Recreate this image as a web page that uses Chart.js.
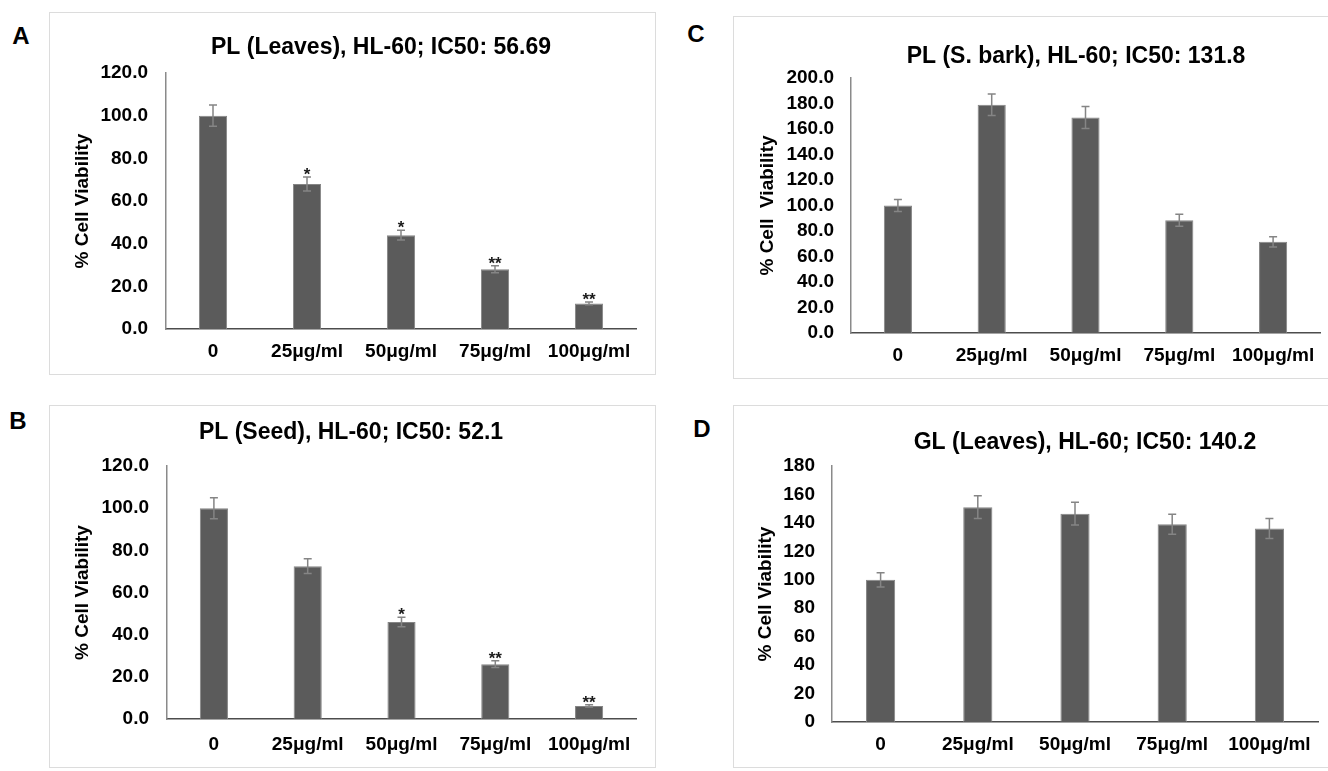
<!DOCTYPE html>
<html>
<head>
<meta charset="utf-8">
<script src="https://cdn.jsdelivr.net/npm/chart.js@4.4.1/dist/chart.umd.min.js"></script>
<style>
  html, body { margin: 0; padding: 0; background: #fff; }
  #wrap { position: relative; width: 1328px; height: 771px; overflow: hidden; background: #fff; }
  .frame { position: absolute; border: 1px solid #dcdcdc; box-sizing: border-box; }
  .tag { position: absolute; font: bold 24px 'Liberation Sans', Arial, sans-serif; color: #000; line-height: 1; transform: translate(-50%, -50%); }
  canvas { position: absolute; }
</style>
</head>
<body>
<div id="wrap">
  <div class="frame" style="left:49px;top:12px;width:607px;height:363px"></div>
  <div class="frame" style="left:49px;top:405px;width:607px;height:363px"></div>
  <div class="frame" style="left:733px;top:16px;width:700px;height:363px"></div>
  <div class="frame" style="left:733px;top:405px;width:700px;height:363px"></div>
  <div class="tag" style="left:21px;top:36px">A</div>
  <div class="tag" style="left:18px;top:421px">B</div>
  <div class="tag" style="left:696px;top:34px">C</div>
  <div class="tag" style="left:702px;top:429px">D</div>
  <canvas id="chartA"></canvas>
  <canvas id="chartB"></canvas>
  <canvas id="chartC"></canvas>
  <canvas id="chartD"></canvas>
</div>
<script>
// Doses shared by all four panels
const doses = ['0', '25μg/ml', '50μg/ml', '75μg/ml', '100μg/ml'];

// A: PL leaves
const viabilityA = [100, 68, 44, 28, 12];
const errorA = [5, 3.3, 2.3, 1.6, 0.6];
const starsA = ['', '*', '*', '**', '**'];

// B: PL seed
const viabilityB = [100, 72.5, 46, 26, 6.2];
const errorB = [5, 3.5, 2.3, 1.6, 0.5];
const starsB = ['', '', '*', '**', '**'];

// C: PL stem bark
const viabilityC = [100, 179, 169, 88.5, 71.5];
const errorC = [4.8, 8.5, 8.7, 4.7, 4];

// D: GL leaves
const viabilityD = [100, 151, 146.5, 139, 136];
const errorD = [5, 8, 8, 7, 7];

const FONT = "'Liberation Sans', Arial, sans-serif";
Chart.defaults.font.family = FONT;
Chart.defaults.color = '#000';

// error bars + significance stars, drawn on top of the bars
const errorBars = {
    id: 'errorBars',
    afterDatasetsDraw(chart, args, opts) {
        const ctx = chart.ctx;
        const y = chart.scales.y;
        const data = chart.data.datasets[0].data;
        const meta = chart.getDatasetMeta(0);
        ctx.save();
        ctx.strokeStyle = '#858585';
        ctx.lineWidth = 1.5;
        meta.data.forEach((bar, i) => {
            const hi = y.getPixelForValue(data[i] + opts.errors[i]);
            const lo = y.getPixelForValue(data[i] - opts.errors[i]);
            ctx.beginPath();
            ctx.moveTo(bar.x, lo);
            ctx.lineTo(bar.x, hi);
            ctx.moveTo(bar.x - 4, hi);
            ctx.lineTo(bar.x + 4, hi);
            ctx.moveTo(bar.x - 4, lo);
            ctx.lineTo(bar.x + 4, lo);
            ctx.stroke();
            if (opts.stars && opts.stars[i]) {
                ctx.fillStyle = '#1a1a1a';
                ctx.font = 'bold 17px ' + FONT;
                ctx.textAlign = 'center';
                ctx.textBaseline = 'alphabetic';
                ctx.fillText(opts.stars[i], bar.x, hi + 3);
            }
        });
        ctx.restore();
    }
};

// chart title, centred where the original figure had it (not on the canvas)
const panelTitle = {
    id: 'panelTitle',
    afterDraw(chart, args, opts) {
        const ctx = chart.ctx;
        ctx.save();
        ctx.font = 'bold 23px ' + FONT;
        ctx.fillStyle = '#000';
        ctx.textAlign = 'center';
        ctx.textBaseline = 'middle';
        ctx.fillText(opts.text, opts.x, opts.y);
        ctx.restore();
    }
};

function makePanel(id, p) {
    const canvas = document.getElementById(id);
    const width = p.plotRight - p.left + 10;
    const height = p.bottom - p.top;
    canvas.width = width;
    canvas.height = height;
    canvas.style.left = p.left + 'px';
    canvas.style.top = p.top + 'px';

    const tickLh = 19 * 1.2;

    return new Chart(canvas.getContext('2d'), {
        type: 'bar',
        data: {
            labels: doses,
            datasets: [{
                data: p.values,
                backgroundColor: '#5b5b5b',
                borderColor: '#858585',
                borderWidth: 1,
                barPercentage: 0.3,
                categoryPercentage: 1.0
            }]
        },
        options: {
            responsive: false,
            animation: false,
            layout: {
                padding: { left: 0, top: p.plotTop - p.top, bottom: 0, right: 10 }
            },
            plugins: {
                legend: { display: false },
                tooltip: { enabled: false },
                title: { display: false },
                panelTitle: { text: p.title, x: p.titleX - p.left, y: p.titleY - p.top },
                errorBars: { errors: p.errors, stars: p.stars }
            },
            scales: {
                x: {
                    grid: { display: false, drawTicks: false },
                    border: { display: true, color: '#4d4d4d', width: 1.5 },
                    ticks: {
                        font: { size: 19, weight: 'bold' },
                        color: '#000',
                        padding: p.labelY - p.plotBottom - tickLh / 2,
                        maxRotation: 0,
                        autoSkip: false
                    },
                    afterFit(scale) { scale.height = p.bottom - p.plotBottom; }
                },
                y: {
                    min: 0,
                    max: p.yMax,
                    grid: { display: false, drawTicks: false },
                    border: { display: true, color: '#8a8a8a', width: 1.5 },
                    ticks: {
                        stepSize: 20,
                        autoSkip: false,
                        font: { size: 19, weight: 'bold' },
                        color: '#000',
                        padding: p.tickGap,
                        callback: v => v.toFixed(p.decimals)
                    },
                    title: {
                        display: true,
                        text: p.yTitle,
                        font: { size: 19, weight: 'bold' },
                        color: '#000',
                        padding: { top: p.yTitleX - p.left - tickLh / 2, bottom: 0 }
                    },
                    afterFit(scale) { scale.width = p.plotLeft - p.left; }
                }
            }
        },
        plugins: [errorBars, panelTitle]
    });
}

makePanel('chartA', {
    title: 'PL (Leaves), HL-60; IC50: 56.69', yTitle: '% Cell Viability',
    values: viabilityA, errors: errorA, stars: starsA, yMax: 120, decimals: 1,
    left: 50, top: 12, bottom: 374, titleX: 381, titleY: 48,
    plotLeft: 166, plotRight: 636, plotTop: 73, plotBottom: 329,
    labelY: 352, tickGap: 18, yTitleX: 83
});

makePanel('chartB', {
    title: 'PL (Seed), HL-60; IC50: 52.1', yTitle: '% Cell Viability',
    values: viabilityB, errors: errorB, stars: starsB, yMax: 120, decimals: 1,
    left: 50, top: 405, bottom: 767, titleX: 351, titleY: 433,
    plotLeft: 167, plotRight: 636, plotTop: 466, plotBottom: 719,
    labelY: 745, tickGap: 18, yTitleX: 83
});

makePanel('chartC', {
    title: 'PL (S. bark), HL-60; IC50: 131.8', yTitle: '% Cell  Viability',
    values: viabilityC, errors: errorC, stars: null, yMax: 200, decimals: 1,
    left: 733, top: 16, bottom: 378, titleX: 1076, titleY: 57,
    plotLeft: 851, plotRight: 1320, plotTop: 78, plotBottom: 333,
    labelY: 356, tickGap: 17, yTitleX: 768
});

makePanel('chartD', {
    title: 'GL (Leaves), HL-60; IC50: 140.2', yTitle: '% Cell Viability',
    values: viabilityD, errors: errorD, stars: null, yMax: 180, decimals: 0,
    left: 733, top: 405, bottom: 767, titleX: 1085, titleY: 443,
    plotLeft: 832, plotRight: 1318, plotTop: 466, plotBottom: 722,
    labelY: 745, tickGap: 17, yTitleX: 766
});
</script>
</body>
</html>
